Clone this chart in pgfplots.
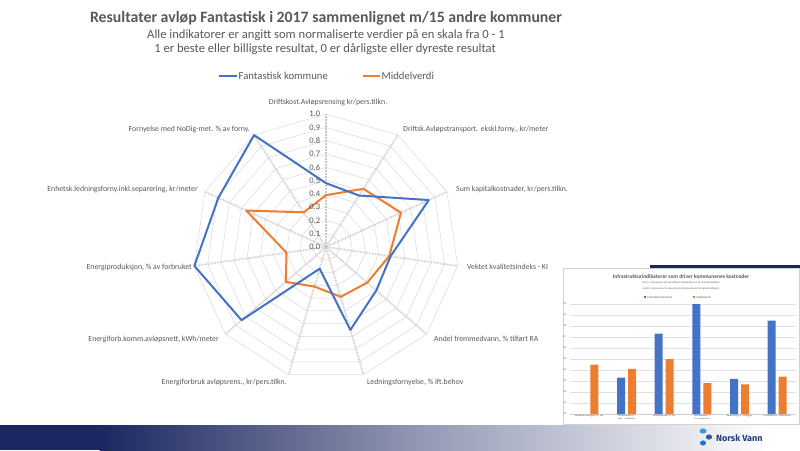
\documentclass[border=0pt]{standalone}
\usepackage{pgfplots}
\pgfplotsset{compat=1.18}
\usepackage{fontspec}
\setmainfont{Carlito}
\newfontfamily\logofont{Fira Sans}
\definecolor{cblue}{HTML}{4472C4}
\definecolor{corange}{HTML}{ED7D31}
\definecolor{txt}{HTML}{595959}
\definecolor{navy}{HTML}{1B2760}
\definecolor{logoblue}{HTML}{1F3F7F}
\begin{document}
\begin{tikzpicture}[x=1pt,y=1pt]
\useasboundingbox (0,0) rectangle (800,450);
\fill[white] (0,0) rectangle (800,450);
% bottom band
\fill[navy] (0,0) rectangle (100,25);
\shade[left color=navy, right color=white, middle color=navy!45] (99.5,0) rectangle (770,25);
\fill[white] (769.5,0) rectangle (800,25);
% titles
\node[font=\fontsize{15.8}{18}\selectfont\bfseries, text=txt] at (326,432) {Resultater avløp Fantastisk i 2017 sammenlignet m/15 andre kommuner};
\node[font=\fontsize{12.6}{15}\selectfont, text=txt] at (326,415) {Alle indikatorer er angitt som normaliserte verdier på en skala fra 0 - 1};
\node[font=\fontsize{12.6}{15}\selectfont, text=txt] at (325,401) {1 er beste eller billigste resultat, 0 er dårligste eller dyreste resultat};
% legend
\draw[cblue, line width=2pt] (219,374) -- (237,374);
\node[anchor=west, inner sep=1pt, font=\fontsize{10.7}{12}\selectfont, text=txt] at (237.5,374) {Fantastisk kommune};
\draw[corange, line width=2pt] (363,374) -- (380,374);
\node[anchor=west, inner sep=1pt, font=\fontsize{10.7}{12}\selectfont, text=txt] at (380.5,374) {Middelverdi};
% radar
\begin{axis}[at={(326pt,203pt)}, anchor=center, width=266pt, height=266pt, scale only axis,
  xmin=-1, xmax=1, ymin=-1, ymax=1, hide axis, clip=false]
\pgfplotsinvokeforeach{0.1,0.2,0.3,0.4,0.5,0.6,0.7,0.8,0.9,1.0}{
  \addplot[gray!30, line width=0.5pt, data cs=polar, mark=none] coordinates {(90,#1) (57.2727,#1) (24.5455,#1) (-8.1818,#1) (-40.9091,#1) (-73.6364,#1) (-106.3636,#1) (-139.0909,#1) (-171.8182,#1) (155.4545,#1) (122.7273,#1) (90,#1)};
}
\pgfplotsinvokeforeach{90,57.2727,24.5455,-8.1818,-40.9091,-73.6364,-106.3636,-139.0909,-171.8182,155.4545,122.7273}{
  \addplot[gray!45, line width=1.8pt, dash pattern=on 0.6pt off 0.9pt, data cs=polar, mark=none] coordinates {(#1,0) (#1,1)};
}
\addplot[corange, line width=2pt, line join=round, data cs=polar, mark=none] coordinates {(90,0.39) (57.2727,0.52) (24.5455,0.62) (-8.1818,0.48) (-40.9091,0.41) (-73.6364,0.39) (-106.3636,0.31) (-139.0909,0.40) (-171.8182,0.30) (155.4545,0.66) (122.7273,0.31) (90,0.39)};
\addplot[cblue, line width=2pt, line join=round, data cs=polar, mark=none] coordinates {(90,0.48) (57.2727,0.46) (24.5455,0.85) (-8.1818,0.49) (-40.9091,0.50) (-73.6364,0.65) (-106.3636,0.17) (-139.0909,0.84) (-171.8182,1.00) (155.4545,0.89) (122.7273,1.00) (90,0.48)};
\pgfplotsinvokeforeach{0.0,0.1,0.2,0.3,0.4,0.5,0.6,0.7,0.8,0.9,1.0}{
  \node[anchor=east, inner sep=1pt, font=\fontsize{8.5}{9}\selectfont, text=txt] at (axis cs:-0.035,#1) {#1};
}
\end{axis}
% category labels
\begin{scope}[every node/.style={font=\fontsize{7.8}{8.5}\selectfont, text=txt, inner sep=1pt}]
\node at (328,348) {Driftskost.Avløpsrensing kr/pers.tilkn.};
\node[anchor=west] at (402,321) {Driftsk.Avløpstransport. ekskl.forny., kr/meter};
\node[anchor=west] at (455,261) {Sum kapitalkostnader, kr/pers.tilkn.};
\node[anchor=west] at (466,183) {Vektet kvalitetsindeks - KI};
\node[anchor=west] at (433,111) {Andel fremmedvann, \% tilført RA};
\node[anchor=west] at (366,68) {Ledningsfornyelse, \% ift.behov};
\node[anchor=east] at (288,68) {Energiforbruk avløpsrens., kr/pers.tilkn.};
\node[anchor=east] at (220,111) {Energiforb.komm.avløpsnett, kWh/meter};
\node[anchor=east] at (193,183) {Energiproduksjon, \% av forbruket};
\node[anchor=east] at (199,261) {Enhetsk.ledningsforny.inkl.separering, kr/meter};
\node[anchor=east] at (251,321) {Fornyelse med NoDig-met. \% av forny.};
\end{scope}
% navy frame bit
\fill[navy] (650,182) rectangle (800,185);
% inset chart
\fill[white] (563,26) rectangle (799,182);
\draw[gray!35, line width=0.4pt] (563,26) rectangle (799,182);
\node[font=\fontsize{5.5}{6}\selectfont\bfseries, text=txt] at (681,173) {Infrastrukturindikatorer som driver kommunenes kostnader};
\node[font=\fontsize{2.6}{3}\selectfont, text=txt] at (681,167) {Verdi 1: Kommunen har den billigste infrastrukturen for aktuelle indikator};
\node[font=\fontsize{2.6}{3}\selectfont, text=txt] at (681,161.5) {Verdi 0: Kommunen har den dyreste infrastrukturen for aktuell indikator};
\fill[cblue] (644,151.8) rectangle (646.4,154.2);
\node[anchor=west, inner sep=0.5pt, font=\fontsize{3}{3.5}\selectfont, text=txt] at (646.6,153) {Fantastisk kommune};
\fill[corange] (693,151.8) rectangle (695.4,154.2);
\node[anchor=west, inner sep=0.5pt, font=\fontsize{3}{3.5}\selectfont, text=txt] at (695.6,153) {Middelverdi};
\begin{axis}[at={(570pt,36pt)}, anchor=south west, width=226pt, height=110pt, scale only axis,
  xmin=-0.5, xmax=5.5, ymin=0, ymax=1, ybar, bar width=8pt,
  ymajorgrids, grid style={gray!25, line width=0.3pt},
  ytick={0,0.1,0.2,0.3,0.4,0.5,0.6,0.7,0.8,0.9,1.0},
  xtick={0,1,2,3,4,5},
  xticklabels={{Tilknyttede innbyggere pr. km},{Tettstedsandel av innb. i avløpsnett},{Pumpestasjoner pr. km},{Fellesledninger i \% av avløpsnett},{Renseanlegg pr. innbygger},{Fremmedvann i fellessystem}},
  x tick label style={font=\fontsize{2.3}{2.8}\selectfont, text=txt, align=center, text width=30pt, inner sep=0.5pt},
  y tick label style={font=\fontsize{2.5}{3}\selectfont, text=txt, /pgf/number format/fixed, /pgf/number format/precision=1, /pgf/number format/fixed zerofill, /pgf/number format/assume math mode=true},
  axis x line*=bottom, axis y line*=left, y axis line style={draw=none}, x axis line style={gray!40, -}, major tick length=0pt]
\addplot[fill=cblue, draw=none, bar shift=-5.5pt] coordinates {(1,0.33) (2,0.73) (3,1.00) (4,0.32) (5,0.85)};
\addplot[fill=corange, draw=none, bar shift=5.5pt] coordinates {(0,0.45) (1,0.41) (2,0.50) (3,0.28) (4,0.27) (5,0.34)};
\end{axis}
% logo
\fill[cyan!70!blue!80] (703,19) ellipse (3.5pt and 2.6pt);
\fill[cblue!80!black] (709,13) ellipse (3.2pt and 2.6pt);
\fill[cyan!60!blue] (703,7) ellipse (3pt and 2.6pt);
\node[anchor=west, inner sep=0pt, font=\logofont\bfseries\fontsize{9}{10}\selectfont, text=logoblue] at (716,12) {Norsk Vann};
\end{tikzpicture}
\end{document}
